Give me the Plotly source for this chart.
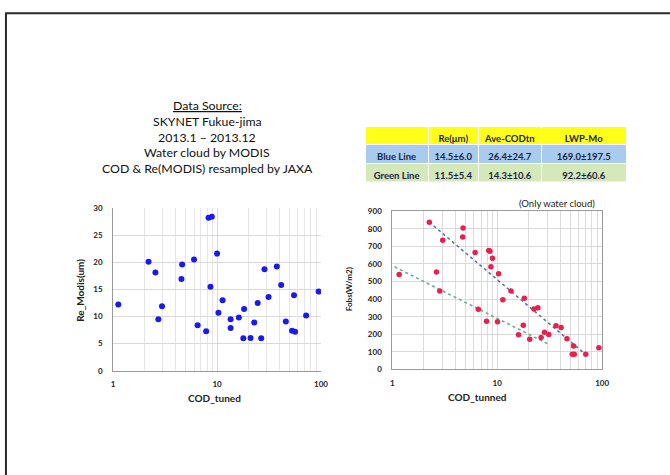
import plotly.graph_objects as go

W, H = 670, 475

# ---------------- data ----------------
left_cod = [1.12, 2.19, 2.55, 2.72, 2.95, 4.54, 4.61, 6.0, 6.5, 7.85, 8.27, 8.9, 8.64,
            10.0, 10.3, 11.3, 13.5, 13.5, 16.2, 17.9, 18.2, 21.0, 22.8, 24.6, 26.6,
            28.6, 31.3, 37.6, 41.4, 45.9, 52.7, 55.0, 56.4, 72.0, 94.9]
left_re = [12.2, 20.1, 18.1, 9.5, 11.9, 16.9, 19.6, 20.5, 8.4, 7.3, 28.2, 28.4, 15.5,
           21.6, 10.7, 13.0, 9.5, 7.9, 9.8, 6.0, 11.4, 6.05, 8.9, 12.5, 6.0,
           18.7, 13.6, 19.2, 15.8, 9.1, 7.4, 13.9, 7.2, 10.2, 14.6]

right_cod = [1.16, 2.25, 2.63, 2.83, 3.02, 4.68, 4.72, 6.15, 6.6, 7.9, 8.3, 8.5, 8.7,
             9.0, 10.05, 10.3, 11.3, 13.5, 15.96, 17.7, 18.1, 20.4, 22.4, 24.4, 26.2,
             28.2, 31.0, 36.3, 40.6, 46.2, 51.9, 53.4, 54.3, 69.8, 93.0]
right_fobs = [540, 837, 555, 446, 735, 753, 805, 666, 342, 274, 677, 672, 584,
              632, 272, 545, 397, 446, 197, 252, 405, 172, 344, 351, 182,
              211, 199, 249, 239, 175, 87, 133, 87, 86, 124]

blue_line_x = [2.24, 72.0]
blue_line_y = [839, 78]
green_line_x = [1.05, 31.0]
green_line_y = [584, 143]

log_tick_vals = [1, 10, 100]
log_tick_text = ["1", "10", "100"]
left_y_ticks = [0, 5, 10, 15, 20, 25, 30]
right_y_ticks = [0, 100, 200, 300, 400, 500, 600, 700, 800, 900]

table_header = ["", "Re(μm)", "Ave-CODtn", "LWP-Mo"]
table_rows = ["Blue\u00a0Line", "Green\u00a0Line"]
table_re = ["14.5±6.0", "11.5±5.4"]
table_cod = ["26.4±24.7", "14.3±10.6"]
table_lwp = ["169.0±197.5", "92.2±60.6"]

source_lines = ["<u>Data Source:</u>", "SKYNET Fukue-jima", "2013.1 – 2013.12",
                "Water cloud by MODIS", "COD & Re(MODIS) resampled by JAXA"]

# ---------------- helpers ----------------
def px(x):
    return x / W

def py(y):
    return 1 - y / H

FONT = "Lato, 'Open Sans', sans-serif"

fig = go.Figure()

fig.add_trace(go.Scatter(x=left_cod, y=left_re, mode="markers", xaxis="x", yaxis="y",
                         marker=dict(color="#1a1aee", size=6), showlegend=False))

fig.add_trace(go.Scatter(x=blue_line_x, y=blue_line_y, mode="lines", xaxis="x2", yaxis="y2",
                         line=dict(color="#5e74a8", width=1.6, dash="dot"), showlegend=False))
fig.add_trace(go.Scatter(x=green_line_x, y=green_line_y, mode="lines", xaxis="x2", yaxis="y2",
                         line=dict(color="#6fae86", width=1.6, dash="dot"), showlegend=False))
fig.add_trace(go.Scatter(x=right_cod, y=right_fobs, mode="markers", xaxis="x2", yaxis="y2",
                         marker=dict(color="#e8204e", size=5.5), showlegend=False))

fig.add_trace(go.Table(
    domain=dict(x=[px(368), px(633)], y=[py(181), py(124)]),
    columnwidth=[64, 51, 64, 86],
    header=dict(values=table_header, fill_color="#ffff1a", align="center",
                line=dict(color="white", width=1), height=18,
                font=dict(family=FONT, size=9.5, color="#1b2444", weight="bold")),
    cells=dict(values=[table_rows, table_re, table_cod, table_lwp],
               fill_color=[["#a9cbee", "#d5e8b9"]] * 4, align="center",
               line=dict(color="white", width=1), height=19,
               font=dict(family=FONT, size=9.5, color="#1b2444", weight="bold")),
))

grid = "#d9d9d9"
axis_common = dict(showline=True, linecolor="#9a9a9a", linewidth=1, zeroline=False,
                   tickfont=dict(family=FONT, size=8, color="#222", weight="bold"),
                   gridcolor=grid, gridwidth=1, fixedrange=True)

fig.update_layout(
    width=W, height=H, margin=dict(l=0, r=0, t=0, b=0),
    paper_bgcolor="white", plot_bgcolor="white", showlegend=False,
    font=dict(family=FONT),
    xaxis=dict(domain=[px(112.7), px(323.3)], type="log", range=[0, 2],
               tickvals=log_tick_vals, ticktext=log_tick_text, anchor="y",
               ticks="", ticklabelstandoff=6, mirror=False,
               minor=dict(dtick="D1", showgrid=True, gridcolor="#e6e6e6", gridwidth=1),
               **axis_common),
    yaxis=dict(domain=[py(373.7), py(207.3)], range=[0, 30], tickvals=left_y_ticks,
               anchor="x", ticks="", ticklabelstandoff=8, **axis_common),
    xaxis2=dict(domain=[px(395.7), px(608.3)], type="log", range=[0, 2],
                tickvals=log_tick_vals, ticktext=log_tick_text, anchor="y2",
                ticks="", ticklabelstandoff=6, mirror=True,
                minor=dict(dtick="D1", showgrid=True, gridcolor="#dcdcdc", gridwidth=1),
                **axis_common),
    yaxis2=dict(domain=[py(372.3), py(210.7)], range=[0, 900], tickvals=right_y_ticks,
                anchor="x2", ticks="", ticklabelstandoff=8, mirror=True, **axis_common),
)

def note(text, x, y, size, bold=False, angle=0, color="#222"):
    f = dict(family=FONT, size=size, color=color)
    if bold:
        f["weight"] = "bold"
    return dict(text=text, x=px(x), y=py(y), xref="paper", yref="paper", showarrow=False,
                xanchor="center", yanchor="middle", textangle=angle, font=f)

ann = [note(t, 208, 103 + i * 16, 12.3, color="#111") for i, t in enumerate(source_lines)]
ann += [
    note("COD_tuned", 215, 401.7, 10, bold=True),
    note("Re_Modis(um)", 78.3, 291.7, 10, bold=True, angle=-90),
    note("COD_tunned", 481.7, 400.7, 10, bold=True),
    note("Fobs(W/m2)", 352, 290, 8, bold=True, angle=-90),
    note("(Only water cloud)", 563, 202.7, 9.5),
]
fig.update_layout(annotations=ann)

fig.update_layout(shapes=[
    dict(type="rect", xref="paper", yref="paper", x0=px(4), x1=1.05, y0=-0.05, y1=py(8.5),
         line=dict(color="#2a2a2a", width=2), fillcolor="rgba(0,0,0,0)", layer="above"),
])

fig.write_html("out.html", config={"displayModeBar": False},
               post_script="document.body.style.margin='0';document.body.style.overflow='hidden';")
